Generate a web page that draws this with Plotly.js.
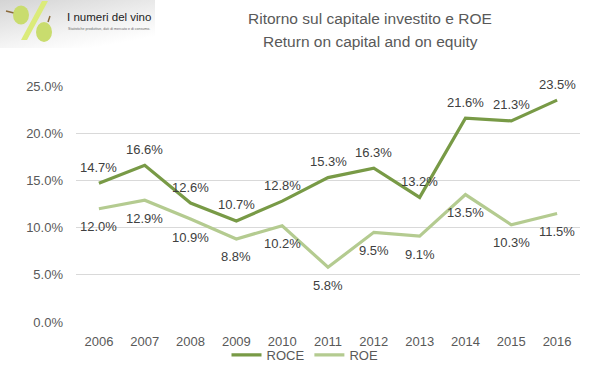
<!DOCTYPE html>
<html><head><meta charset="utf-8">
<script src="https://cdn.plot.ly/plotly-3.0.1.min.js"></script>
<style>html,body{margin:0;padding:0;background:#fff}#chart{width:599px;height:378px}</style>
</head><body><div id="chart"></div>
<script>
const years = ['2006','2007','2008','2009','2010','2011','2012','2013','2014','2015','2016'];
const roce = [14.7, 16.6, 12.6, 10.7, 12.8, 15.3, 16.3, 13.2, 21.6, 21.3, 23.5];
const roe = [12.0, 12.9, 10.9, 8.8, 10.2, 5.8, 9.5, 9.1, 13.5, 10.3, 11.5];
const yTicks = [0, 5, 10, 15, 20, 25];
const yTickLabels = ['0.0%', '5.0%', '10.0%', '15.0%', '20.0%', '25.0%'];

const W = 599, H = 378, M = {l: 76, r: 19, t: 86, b: 56, autoexpand: false};
const PW = W - M.l - M.r, PH = H - M.t - M.b;
const px = x => (x - M.l) / PW;
const py = y => (H - M.b - y) / PH;

const svg = `<svg xmlns="http://www.w3.org/2000/svg" width="155" height="48" viewBox="0 0 155 48">
<defs><linearGradient id="g" x1="0" y1="0" x2="0.6" y2="1"><stop offset="0" stop-color="#d4d4d4"/><stop offset="0.7" stop-color="#f4f4f4"/><stop offset="1" stop-color="#ffffff"/></linearGradient></defs>
<rect width="155" height="48" fill="url(#g)"/>
<path d="M6 11 L14 13" stroke="#8a6a3a" stroke-width="1.5"/>
<ellipse cx="21" cy="15" rx="8" ry="9.5" fill="#c9dc6e"/>
<polygon points="42,1 48,1 27,40 21,40" fill="#dbeb7a"/>
<path d="M50 16 L48 22" stroke="#8a6a3a" stroke-width="1.5"/>
<ellipse cx="44" cy="32" rx="8" ry="10" fill="#c9dc6e"/>
</svg>`;
const logo = 'data:image/svg+xml;charset=utf-8,' + encodeURIComponent(svg);

const fmt = v => v.toFixed(1) + '%';
const mkFont = () => ({family: 'Arial, Liberation Sans, sans-serif', size: 13, color: '#404040'});

const traces = [
  {x: years, y: roce, name: 'ROCE', type: 'scatter', mode: 'lines',
   line: {color: '#789a46', width: 3.2}, hoverinfo: 'skip'},
  {x: years, y: roe, name: 'ROE', type: 'scatter', mode: 'lines',
   line: {color: '#b4cb90', width: 3.2}, hoverinfo: 'skip'}
];

const dataLabels = [];
for (let i = 0; i < years.length; i++) {
  dataLabels.push({x: i, y: roce[i], xref: 'x', yref: 'y', text: fmt(roce[i]), showarrow: false,
    xanchor: 'center', yanchor: 'middle', yshift: 16, font: mkFont()});
  dataLabels.push({x: i, y: roe[i], xref: 'x', yref: 'y', text: fmt(roe[i]), showarrow: false,
    xanchor: 'center', yanchor: 'middle', yshift: -18, font: mkFont()});
}

const titleFont = () => ({family: 'Arial, Liberation Sans, sans-serif', size: 15.5, color: '#595959'});
const annotations = [
  {text: 'Ritorno sul capitale investito e ROE', xref: 'paper', yref: 'paper', x: px(370), y: py(18),
   showarrow: false, xanchor: 'center', yanchor: 'middle', font: titleFont()},
  {text: 'Return on capital and on equity', xref: 'paper', yref: 'paper', x: px(370), y: py(41),
   showarrow: false, xanchor: 'center', yanchor: 'middle', font: titleFont()},
  {text: 'I numeri del vino', xref: 'paper', yref: 'paper', x: px(65), y: py(17),
   showarrow: false, xanchor: 'left', yanchor: 'middle',
   font: {family: 'Arial, Liberation Sans, sans-serif', size: 11.5, color: '#222222'}},
  {text: 'Statistiche produttive, dati di mercato e di consumo.', xref: 'paper', yref: 'paper', x: px(66), y: py(29),
   showarrow: false, xanchor: 'left', yanchor: 'middle',
   font: {family: 'Arial, Liberation Sans, sans-serif', size: 3.6, color: '#666666'}}
];
for (const a of dataLabels) annotations.push(a);

const layout = {
  width: W, height: H, margin: M,
  paper_bgcolor: '#fff', plot_bgcolor: '#fff',
  font: {family: 'Arial, Liberation Sans, sans-serif', color: '#595959', size: 13},
  showlegend: true,
  legend: {orientation: 'h', x: px(305), xanchor: 'center', y: py(355), yanchor: 'middle',
           bgcolor: 'rgba(0,0,0,0)', font: {size: 13, color: '#595959'}, itemwidth: 30, tracegroupgap: 0},
  xaxis: {type: 'category', range: [-0.5, 10.5], showgrid: false, zeroline: false, showline: false,
          ticks: '', ticklabelstandoff: 10, tickfont: {size: 13, color: '#595959'}, fixedrange: true},
  yaxis: {range: [0, 25], tickvals: yTicks, ticktext: yTickLabels, showgrid: true, gridcolor: '#d9d9d9',
          gridwidth: 1, zeroline: false, showline: false, ticks: '', ticklabelstandoff: 12,
          tickfont: {size: 13, color: '#595959'}, fixedrange: true},
  images: [{source: logo, xref: 'paper', yref: 'paper', x: px(0), y: py(0), sizex: 155 / PW, sizey: 48 / PH,
            xanchor: 'left', yanchor: 'top', sizing: 'stretch', layer: 'below'}],
  annotations: annotations
};

Plotly.newPlot('chart', traces, layout, {displayModeBar: false});
</script></body></html>
